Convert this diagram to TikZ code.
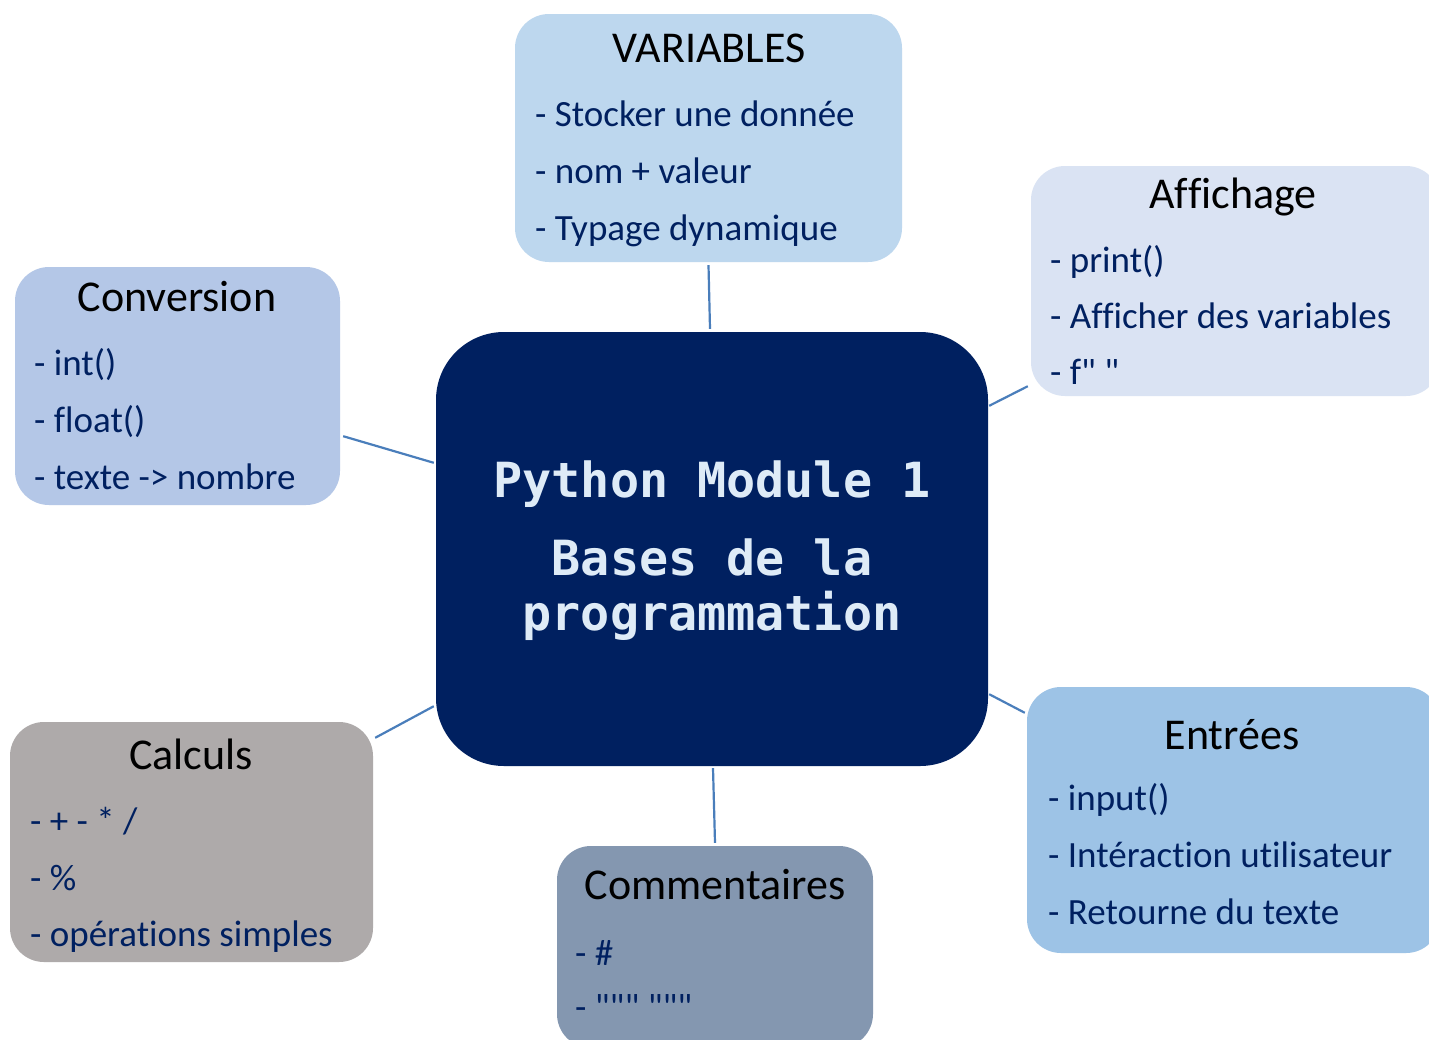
\documentclass[tikz,border=0pt]{standalone}
\usepackage{fontspec}
\setmainfont{Carlito}[Ligatures={TeXOff,NoCommon}]
\newfontfamily\centerfont{DejaVu Sans Mono}
\definecolor{cVar}{HTML}{BDD7EE}
\definecolor{cAff}{HTML}{DAE3F3}
\definecolor{cConv}{HTML}{B4C7E7}
\definecolor{cCtr}{HTML}{002060}
\definecolor{cCalc}{HTML}{AEAAAA}
\definecolor{cCom}{HTML}{8497B0}
\definecolor{cEnt}{HTML}{9DC3E6}
\definecolor{cLine}{HTML}{4A7EBB}
\definecolor{cItem}{HTML}{002060}
\definecolor{cCtrTxt}{HTML}{DEEBF7}
\tikzset{
  topicbox/.style={rectangle, rounded corners=34pt, inner sep=0pt, draw=none},
  titletext/.style={anchor=base, inner sep=0pt, text=black, font=\fontsize{44}{52}\selectfont},
  itemtext/.style={anchor=base west, inner sep=0pt, text=cItem, font=\fontsize{37}{44}\selectfont},
  link/.style={draw=cLine, line width=2.2pt},
  centertext/.style={anchor=base, inner sep=0pt, text=cCtrTxt, font=\centerfont\bfseries\fontsize{48.4}{55}\selectfont},
}
\begin{document}
\begin{tikzpicture}[x=1pt,y=-1pt]
\useasboundingbox (0,0) rectangle (1429,1039);
\clip (0,0) rectangle (1429,1039);
\fill[white] (0,0) rectangle (1429,1039);

% boxes
\node[topicbox, fill=cVar, minimum width=387pt, minimum height=248pt] (var) at (708.5,138) {};
\node[topicbox, fill=cAff, minimum width=409pt, minimum height=230pt] (aff) at (1235.5,281) {};
\node[topicbox, fill=cConv, minimum width=325pt, minimum height=238pt] (conv) at (177.5,386) {};
\node[topicbox, fill=cCtr, rounded corners=68pt, minimum width=552pt, minimum height=434pt] (ctr) at (712,549) {};
\node[topicbox, fill=cCalc, minimum width=363pt, minimum height=240pt] (calc) at (191.5,842) {};
\node[topicbox, fill=cCom, minimum width=316pt, minimum height=202pt] (com) at (715,947) {};
\node[topicbox, fill=cEnt, minimum width=413pt, minimum height=266pt] (ent) at (1233.5,820) {};

% connectors
\draw[link] ([yshift=-3pt]var.south) -- ([xshift=-2pt,yshift=3pt]ctr.north);
\draw[link] ([xshift=1pt,yshift=-74pt]ctr.north east) -- ([xshift=-3pt,yshift=10pt]aff.south west);
\draw[link] ([xshift=3pt,yshift=69pt]conv.south east) -- ([xshift=-2pt,yshift=-131pt]ctr.north west);
\draw[link] ([xshift=2pt,yshift=-16pt]calc.north east) -- ([xshift=-2pt,yshift=60pt]ctr.south west);
\draw[link] ([xshift=1pt,yshift=-2pt]ctr.south) -- ([yshift=3pt]com.north);
\draw[link] ([xshift=1pt,yshift=72pt]ctr.south east) -- ([xshift=-2pt,yshift=-26pt]ent.north west);

% center text
\node[centertext] (t0) at (712,497) {Python Module 1};
\node[centertext] (t1) at (712,575) {Bases de la};
\node[centertext] (t2) at (712,630) {programmation};

% VARIABLES
\node[titletext] (varT) at (709,62) {VARIABLES};
\node[itemtext] (var1) at (535,126) {- Stocker une donnée};
\node[itemtext] (var2) at (535,183) {- nom + valeur};
\node[itemtext] (var3) at (535,240) {- Typage dynamique};

% Affichage
\node[titletext] (affT) at (1233,208) {Affichage};
\node[itemtext] (aff1) at (1050,272) {- print()};
\node[itemtext] (aff2) at (1050,328) {- Afficher des variables};
\node[itemtext] (aff3) at (1050,384) {- f" "};

% Conversion
\node[titletext] (convT) at (177,311) {Conversion};
\node[itemtext] (conv1) at (34,375) {- int()};
\node[itemtext] (conv2) at (34,432) {- float()};
\node[itemtext] (conv3) at (34,489) {- texte -> nombre};

% Calculs
\node[titletext] (calcT) at (191,769) {Calculs};
\node[itemtext] (calc1) at (30,833) {- + - * /};
\node[itemtext] (calc2) at (30,890) {- \%};
\node[itemtext] (calc3) at (30,946) {- opérations simples};

% Commentaires
\node[titletext] (comT) at (715,899) {Commentaires};
\node[itemtext] (com1) at (575,965) {- \#};
\node[itemtext] (com2) at (575,1019) {- """ """};

% Entrées
\node[titletext] (entT) at (1232,749) {Entrées};
\node[itemtext] (ent1) at (1048,810) {- input()};
\node[itemtext] (ent2) at (1048,867) {- Intéraction utilisateur};
\node[itemtext] (ent3) at (1048,924) {- Retourne du texte};
\end{tikzpicture}
\end{document}
